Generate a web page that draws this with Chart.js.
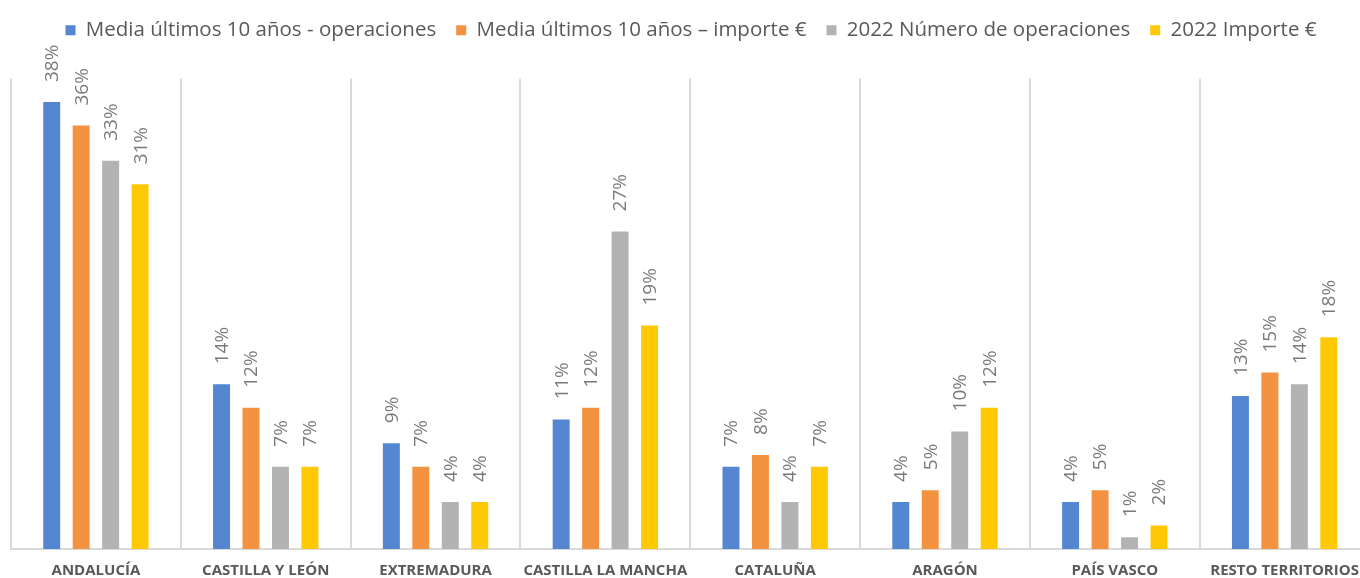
<!DOCTYPE html>
<html>
<head>
<meta charset="utf-8">
<script src="https://cdn.jsdelivr.net/npm/chart.js@4"></script>
<style>
  html, body { margin: 0; padding: 0; background: #fff; overflow: hidden; width: 1360px; height: 578px; }
  #wrap { width: 1372px; height: 578px; }
</style>
</head>
<body>
<div id="wrap"><canvas id="chart" width="1372" height="578"></canvas></div>
<script>
// Regions
const regions = [
  "ANDALUCÍA",
  "CASTILLA Y LEÓN",
  "EXTREMADURA",
  "CASTILLA LA MANCHA",
  "CATALUÑA",
  "ARAGÓN",
  "PAÍS VASCO",
  "RESTO TERRITORIOS",
];

// Share per region (%)
const media10Operaciones = [38, 14, 9, 11, 7, 4, 4, 13];
const media10Importe = [36, 12, 7, 12, 8, 5, 5, 15];
const operaciones2022 = [33, 7, 4, 27, 4, 10, 1, 14];
const importe2022 = [31, 7, 4, 19, 7, 12, 2, 18];

const seriesNames = [
  "Media últimos 10 años - operaciones",
  "Media últimos 10 años – importe €",
  "2022 Número de operaciones",
  "2022 Importe €",
];
const seriesColors = ["#5586D1", "#F39241", "#B3B3B3", "#FFC804"];

// Rotated value labels above bars
const valueLabels = {
  id: "valueLabels",
  afterDatasetsDraw(chart) {
    const ctx = chart.ctx;
    ctx.save();
    ctx.font = "19px 'Open Sans'";
    ctx.fillStyle = "#7a7a7a";
    ctx.textAlign = "left";
    ctx.textBaseline = "middle";
    chart.data.datasets.forEach((ds, i) => {
      chart.getDatasetMeta(i).data.forEach((bar, j) => {
        ctx.save();
        ctx.translate(bar.x + 1, bar.y - 20);
        ctx.rotate(-Math.PI / 2);
        ctx.fillText(ds.data[j] + "%", 0, 0);
        ctx.restore();
      });
    });
    ctx.restore();
  },
};

// Extra room under the legend
const legendSpace = {
  id: "legendSpace",
  beforeInit(chart) {
    const fit = chart.legend.fit;
    chart.legend.fit = function () {
      fit.bind(chart.legend)();
      this.height += 28;
    };
  },
};

const ctx = document.getElementById("chart").getContext("2d");
new Chart(ctx, {
  type: "bar",
  data: {
    labels: regions,
    datasets: [media10Operaciones, media10Importe, operaciones2022, importe2022].map((d, i) => ({
      label: seriesNames[i],
      data: d,
      backgroundColor: seriesColors[i],
      categoryPercentage: 0.694,
      barPercentage: 0.576,
    })),
  },
  options: {
    responsive: false,
    animation: false,
    layout: { padding: { left: 11, right: 1, top: 0, bottom: 0 } },
    plugins: {
      legend: {
        position: "top",
        labels: {
          font: { family: "'Open Sans'", size: 20.5 },
          color: "#595959",
          boxWidth: 10,
          boxHeight: 10,
          padding: 20,
        },
      },
      tooltip: { enabled: false },
    },
    scales: {
      x: {
        afterFit(scale) {
          scale.height = 29;
        },
        grid: { color: "#d9d9d9", lineWidth: 2, drawTicks: false },
        border: { color: "#d9d9d9", width: 2 },
        ticks: {
          font: { family: "'Open Sans'", size: 15, weight: "bold" },
          color: "#595959",
          padding: 13,
          maxRotation: 0,
          autoSkip: false,
        },
      },
      y: {
        display: false,
        min: 0,
        max: 40,
      },
    },
  },
  plugins: [valueLabels, legendSpace],
});
</script>
</body>
</html>
